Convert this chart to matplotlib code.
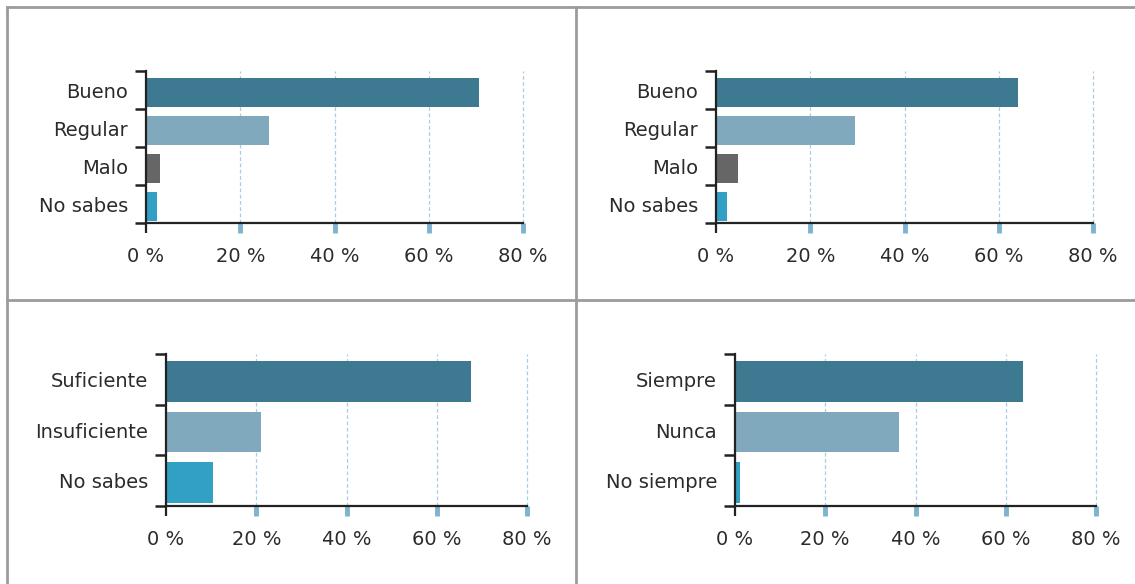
import matplotlib
matplotlib.use("Agg")
import matplotlib.pyplot as plt
from matplotlib.lines import Line2D

W, H = 1135, 584

# panel data (top to bottom)
cats_1 = ["Bueno", "Regular", "Malo", "No sabes"]
vals_1 = [70.7, 26.1, 3.0, 2.3]
cats_2 = ["Bueno", "Regular", "Malo", "No sabes"]
vals_2 = [64.1, 29.5, 4.7, 2.3]
cats_3 = ["Suficiente", "Insuficiente", "No sabes"]
vals_3 = [67.6, 21.1, 10.4]
cats_4 = ["Siempre", "Nunca", "No siempre"]
vals_4 = [63.8, 36.3, 1.1]

xticks = [0, 20, 40, 60, 80]
xtick_labels = ["0 %", "20 %", "40 %", "60 %", "80 %"]

colors_4 = ["#3d7a92", "#80a9bd", "#666666", "#32a0c5"]
colors_3 = ["#3d7a92", "#80a9bd", "#32a0c5"]

TEXT = "#2b2b2b"
TICKBLUE = "#7db3cf"
GRIDBLUE = "#a9cde1"
BORDER = "#9c9c9c"
FS = 14


def px_rect(x0, x1, y0, y1):
    return [x0 / W, 1 - y1 / H, (x1 - x0) / W, (y1 - y0) / H]


def panel(fig, rect, cats, vals, colors, height, shift):
    ax = fig.add_axes(rect)
    n = len(cats)
    ypos = list(range(n))
    # bars sit a touch below the slot centre in the original
    ax.barh([y + shift for y in ypos], vals, height=height, color=colors, zorder=3)
    ax.set_xlim(0, 80)
    ax.set_ylim(n - 0.5, -0.5)

    for s in ["top", "right"]:
        ax.spines[s].set_visible(False)
    for s in ["left", "bottom"]:
        ax.spines[s].set_linewidth(1.6)
        ax.spines[s].set_color("#222222")
        ax.spines[s].set_zorder(4)

    ax.set_yticks(ypos)
    ax.set_yticklabels(cats, fontsize=FS, color=TEXT)
    ax.set_yticks([i - 0.5 for i in range(n + 1)], minor=True)
    ax.tick_params(axis="y", which="major", length=0, pad=13)
    ax.tick_params(axis="y", which="minor", length=8, width=1.8, color="#222222")

    ax.set_xticks(xticks)
    ax.set_xticklabels(xtick_labels, fontsize=FS, color=TEXT)
    ax.tick_params(axis="x", which="major", length=7, width=1.6, pad=10)
    for i, t in enumerate(ax.xaxis.get_major_ticks()):
        if i == 0:
            t.tick1line.set_markeredgecolor("#222222")
        else:
            t.tick1line.set_markeredgecolor(TICKBLUE)
            t.tick1line.set_markeredgewidth(3.5)
            t.tick1line.set_markersize(7)

    ax.grid(axis="x", color=GRIDBLUE, linestyle=(0, (3, 2)), linewidth=0.9, zorder=1)
    for gl in ax.get_xgridlines():
        gl.set_clip_on(False)
    ax.set_axisbelow(True)
    return ax


fig = plt.figure(figsize=(W / 100, H / 100), dpi=100)
fig.patch.set_facecolor("white")

panel(fig, px_rect(146, 523, 71, 223), cats_1, vals_1, colors_4, 0.76, 0.07)
panel(fig, px_rect(716, 1093, 71, 223), cats_2, vals_2, colors_4, 0.76, 0.07)
panel(fig, px_rect(166, 527, 354, 506), cats_3, vals_3, colors_3, 0.8, 0.04)
panel(fig, px_rect(735, 1096, 354, 506), cats_4, vals_4, colors_3, 0.8, 0.04)

# panel borders
for (x0, y0, x1, y1) in [(7, 7, W, 7), (7, 7, 7, H), (576, 7, 576, H), (7, 300, W, 300)]:
    fig.add_artist(Line2D([x0 / W, x1 / W], [1 - y0 / H, 1 - y1 / H],
                          transform=fig.transFigure, color=BORDER, linewidth=2))

fig.savefig("out.png", dpi=100, facecolor="white")
